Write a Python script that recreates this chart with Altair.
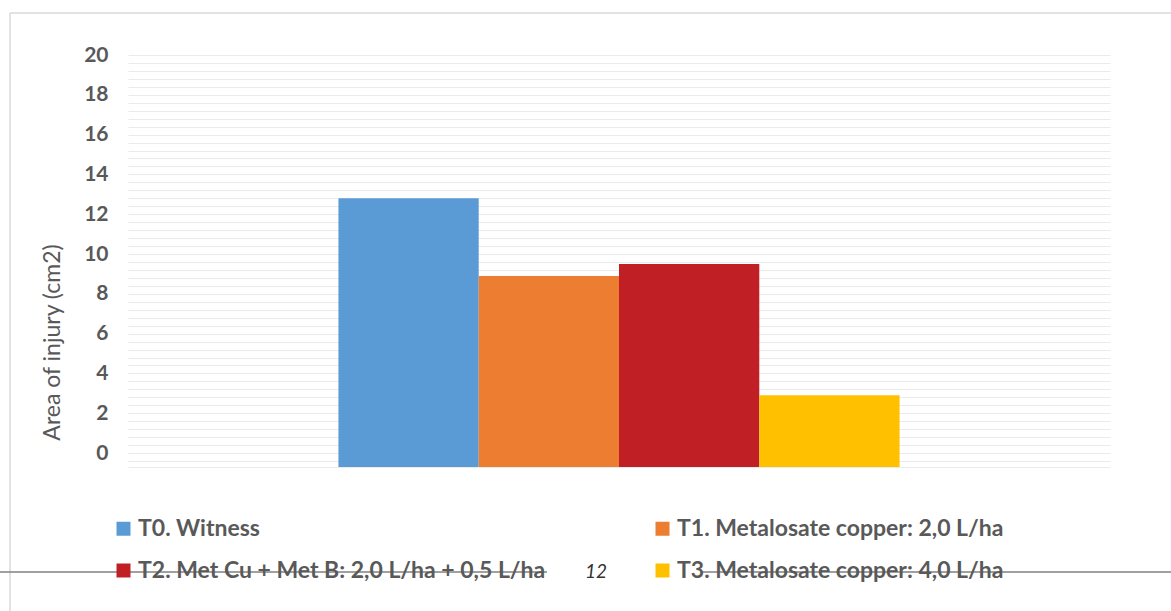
import altair as alt
import pandas as pd

treatments = [
    "T0. Witness",
    "T1. Metalosate copper: 2,0 L/ha",
    "T2. Met Cu + Met B: 2,0 L/ha + 0,5 L/ha",
    "T3. Metalosate copper: 4,0 L/ha",
]
values = [12.8, 8.9, 9.5, 2.9]
colors = ["#5B9BD5", "#ED7D31", "#C01F25", "#FFC000"]
grid_vals = [round(20 - 0.4 * k, 1) for k in range(52)] + [-0.7]

df = pd.DataFrame({"group": ["all"] * len(treatments), "treatment": treatments, "value": values})

FONT = "Lato"
GRAY = "#595959"

bars = alt.Chart(df).mark_bar().encode(
    x=alt.X("group:N", scale=alt.Scale(paddingInner=0, paddingOuter=0.375), axis=None),
    xOffset=alt.XOffset("treatment:N", sort=treatments,
                        scale=alt.Scale(paddingInner=0, paddingOuter=0)),
    y=alt.Y("value:Q",
            scale=alt.Scale(domain=[-0.7, 20], nice=False, zero=False),
            axis=alt.Axis(values=grid_vals, grid=True, gridColor="#EBEBEB", gridWidth=1,
                          ticks=False, tickSize=0, domain=False,
                          labelExpr="datum.value >= 0 && datum.value % 2 == 0 ? format(datum.value, 'd') : ''",
                          labelOverlap=False, labelFlush=False,
                          labelFont=FONT, labelFontWeight="bold", labelFontSize=21,
                          labelColor=GRAY, labelPadding=20,
                          title="Area of injury (cm2)", titleFont=FONT, titleFontWeight="normal",
                          titleFontSize=23, titleColor=GRAY, titleAngle=270,
                          titleX=-76, titleY=287, titleAlign="center", titleBaseline="middle")),
    y2=alt.datum(-0.7),
    color=alt.Color("treatment:N", sort=treatments,
                    scale=alt.Scale(domain=treatments, range=colors),
                    legend=alt.Legend(title=None, orient="none", legendX=-16, legendY=462,
                                      direction="horizontal",
                                      columns=2, columnPadding=105, rowPadding=18,
                                      symbolType="square", symbolSize=196, symbolStrokeWidth=0,
                                      labelFont=FONT, labelFontWeight="bold", labelFontSize=23,
                                      labelColor=GRAY, labelOffset=3, labelLimit=1000,
                                      padding=0)),
)

one = pd.DataFrame({"a": [0]})
deco = alt.Chart(one)
line1 = deco.mark_rule(color="#808080", strokeWidth=1.5).encode(
    x=alt.value(-128), x2=alt.value(419), y=alt.value(517))
line2 = deco.mark_rule(color="#808080", strokeWidth=1.5).encode(
    x=alt.value(574), x2=alt.value(1043), y=alt.value(517))
page_no = deco.mark_text(text="12", font=FONT, fontStyle="italic", fontSize=19,
                         color="#333333", baseline="middle").encode(
    x=alt.value(468), y=alt.value(517))
frame_top = deco.mark_rule(color="#D9D9D9", strokeWidth=1.5).encode(
    x=alt.value(-118), x2=alt.value(1043), y=alt.value(-42))
frame_left = deco.mark_rule(color="#D9D9D9", strokeWidth=1.5).encode(
    x=alt.value(-118), y=alt.value(-42), y2=alt.value(556))

chart = alt.layer(bars, frame_top, frame_left, line1, line2, page_no).properties(
    width=982, height=412,
    autosize=alt.AutoSizeParams(type="none"),
    padding={"left": 128, "top": 55, "right": 61, "bottom": 144},
    background="white",
).configure_view(strokeWidth=0)

chart.save("out.html", embed_options={"renderer": "svg", "actions": False})
